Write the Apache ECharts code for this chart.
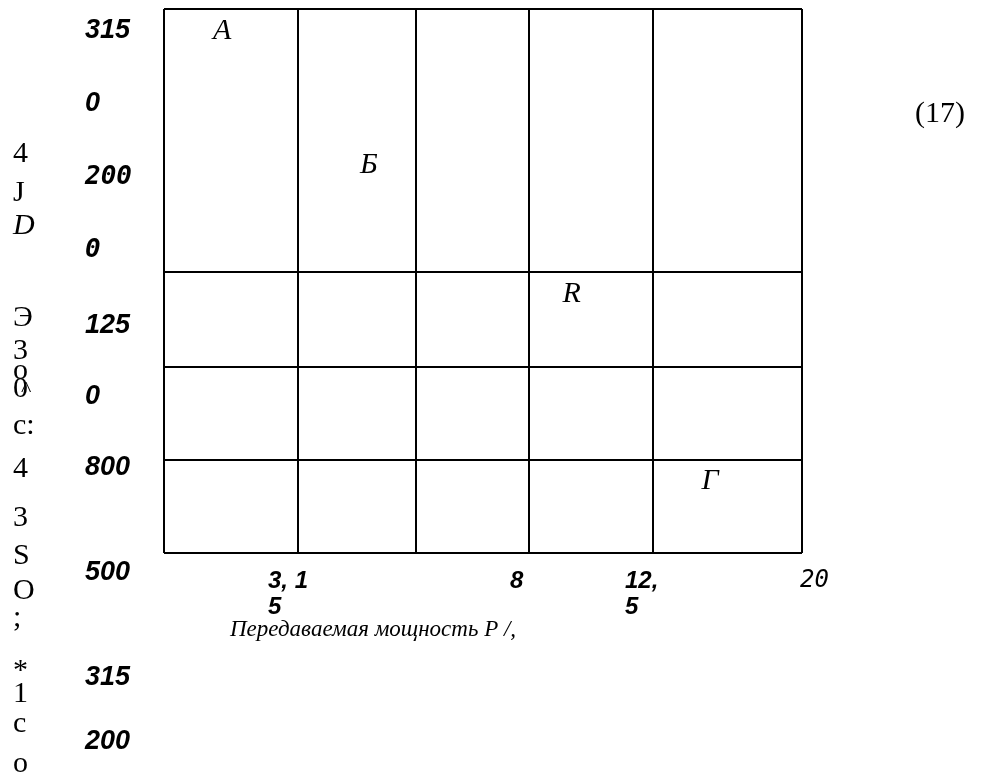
<!DOCTYPE html>
<html>
<head>
<meta charset="utf-8">
<script src="https://cdn.jsdelivr.net/npm/echarts@6/dist/echarts.min.js"></script>
<style>
  html, body { margin: 0; padding: 0; background: #fff; }
  #chart { width: 984px; height: 783px; }
</style>
</head>
<body>
<div id="chart"></div>
<script>
// grid boundaries, in axis units (0..100 each way)
const xLines = [0, 21.0, 39.5, 57.1, 76.6, 100]
const yLines = [0, 17.1, 34.2, 51.7, 100]

// zone letters inside the cells
const zoneNames = ['A', 'Б', 'R', 'Г']
const zoneX = [9.1, 32.1, 63.9, 85.6]
const zoneY = [96.0, 71.3, 47.6, 13.2]

// tick labels as printed
const yTickLabels = ['315', '0', '200', '0', '125', '0', '800', '500', '315', '200']
const xTickLabels = ['3, 1\n5', '8', '12,\n5', '20']
const xTitle = 'Передаваемая мощность P /,'
const sideChars = ['4', 'J', 'D', 'Э', '3', 'o', '0', 'c:', '4', '3', 'S', 'O', ';', '*', '1', 'c', 'o']
const eqNumber = '(17)'

// layout of the loose texts (pixels)
const yTickTop = [31, 104, 178, 251, 326, 397, 468, 573, 678, 742]
const yTickMono = [false, false, true, true, false, false, false, false, false, false]
const xTickLeft = [268, 510, 625, 800]
const xTickMono = [false, false, false, true]
const sideY = [154, 193, 226, 318, 351, 371, 389, 426, 469, 518, 556, 591, 618, 671, 694, 724, 764]

const chart = echarts.init(document.getElementById('chart'))

const SANS = '"Liberation Sans", Arial, sans-serif'
const MONO = '"DejaVu Sans Mono", monospace'
const SERIF = '"Liberation Serif", "Times New Roman", serif'

const graphics = []
yTickLabels.forEach((t, i) => {
  graphics.push({
    type: 'text', left: 85, top: yTickTop[i] - 14,
    style: {
      text: t, fill: '#000',
      fontFamily: yTickMono[i] ? MONO : SANS,
      fontStyle: 'italic', fontWeight: 'bold', fontSize: yTickMono[i] ? 26 : 27
    }
  })
})
xTickLabels.forEach((t, i) => {
  graphics.push({
    type: 'text', left: xTickLeft[i], top: 568,
    style: {
      text: t, fill: '#000',
      fontFamily: xTickMono[i] ? MONO : SANS,
      fontStyle: 'italic',
      fontWeight: xTickMono[i] ? 'normal' : 'bold',
      fontSize: 24,
      lineHeight: 26
    }
  })
})
sideChars.forEach((t, i) => {
  graphics.push({
    type: 'text', left: 13, top: sideY[i] - 15,
    style: {
      text: t, fill: '#000',
      fontFamily: SERIF,
      fontStyle: t === 'D' ? 'italic' : 'normal',
      fontSize: 30
    }
  })
})
// stray mark overlapping the "0"
graphics.push({
  type: 'text', left: 21, top: 379,
  style: { text: '^', fontFamily: SERIF, fontSize: 22, fill: '#000' }
})
graphics.push({
  type: 'text', left: 230, top: 618,
  style: { text: xTitle, fontFamily: SERIF, fontStyle: 'italic', fontSize: 23, fill: '#000' }
})
graphics.push({
  type: 'text', left: 915, top: 99,
  style: { text: eqNumber, fontFamily: SERIF, fontSize: 30, fill: '#000' }
})

const lineData = xLines.map(v => ({ xAxis: v })).concat(yLines.map(v => ({ yAxis: v })))

chart.setOption({
  animation: false,
  backgroundColor: '#fff',
  grid: { left: 164, right: 182, top: 9, bottom: 230 },
  xAxis: { type: 'value', min: 0, max: 100, show: false },
  yAxis: { type: 'value', min: 0, max: 100, show: false },
  graphic: graphics,
  series: [
    {
      type: 'scatter',
      symbolSize: 0.1,
      itemStyle: { color: '#fff', opacity: 1 },
      data: zoneNames.map((n, i) => ({ name: n, value: [zoneX[i], zoneY[i]] })),
      label: {
        show: true,
        position: 'inside',
        formatter: '{b}',
        color: '#000',
        fontFamily: SERIF,
        fontStyle: 'italic',
        fontSize: 30
      },
      emphasis: { disabled: true },
      markLine: {
        silent: true,
        symbol: ['none', 'none'],
        label: { show: false },
        lineStyle: { color: '#000', width: 2, type: 'solid', opacity: 1 },
        emphasis: { disabled: true },
        data: lineData
      }
    }
  ]
})
</script>
</body>
</html>
